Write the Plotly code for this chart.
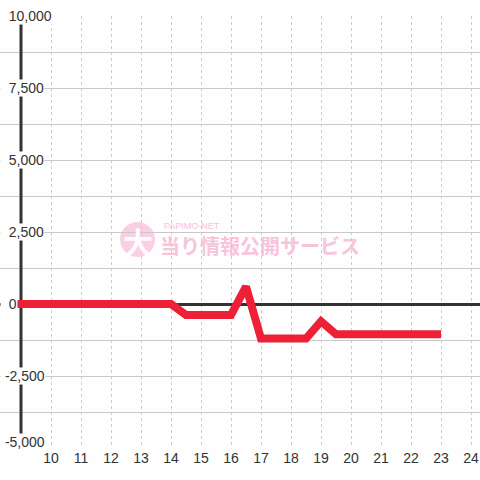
import plotly.graph_objects as go

# ---- data ----
hours = [8.5, 9, 9.5, 10, 10.5, 11, 11.5, 12, 12.5, 13, 13.5, 14,
         14.5, 15, 15.5, 16, 16.5, 17, 17.5, 18, 18.5, 19, 19.5,
         20, 20.5, 21, 21.5, 22, 22.5, 23]
balance = [0, 0, 0, 0, 0, 0, 0, 0, 0, 0, 0, 0,
           -380, -380, -380, -380, 600, -1200, -1200, -1200, -1200, -600, -1050,
           -1050, -1050, -1050, -1050, -1050, -1050, -1050]

x_tick_vals = [9, 10, 11, 12, 13, 14, 15, 16, 17, 18, 19, 20, 21, 22, 23, 24]
x_tick_text = ["", "10", "11", "12", "13", "14", "15", "16", "17", "18",
               "19", "20", "21", "22", "23", "24"]
y_label_vals = [10000, 7500, 5000, 2500, 0, -2500, -5000]
y_label_text = ["10,000", "7,500", "5,000", "2,500", "0", "-2,500", "-5,000"]

watermark_main = "当り情報公開サービス"
watermark_sub = "PAPIMO-NET"
watermark_icon = "大"

BG = "#fdfefd"
TXT = "#333333"
NBSP = "\u00a0"

fig = go.Figure()
fig.add_trace(go.Scatter(
    x=hours, y=balance, mode="lines",
    line=dict(color="#ee2037", width=8),
    hoverinfo="skip", showlegend=False,
))

# dark vertical axis line at x=9
fig.add_shape(type="line", xref="x", yref="y", x0=9, x1=9, y0=-5000, y1=10000,
              line=dict(color=TXT, width=3), layer="between")

# watermark circle
fig.add_shape(type="circle", xref="paper", yref="paper",
              x0=0.25, x1=0.3229, y0=0.442, y1=0.523,
              fillcolor="#fbcfe3", line=dict(width=0), layer="below")

annotations = []
for v, t in zip(y_label_vals, y_label_text):
    pad = NBSP if t.startswith("-") else NBSP * 2
    annotations.append(dict(
        x=0, xref="paper", y=v, yref="y", text=pad + t, showarrow=False,
        xanchor="left", yanchor="middle", xshift=0,
        yshift=(6 if v == min(y_label_vals) else 0),
        font=dict(family="Liberation Sans, Arial", size=14, color=TXT),
        bgcolor=BG, borderpad=0,
    ))

annotations.append(dict(
    x=0.2875, xref="paper", y=0.479, yref="paper", text="<b>" + watermark_icon + "</b>",
    showarrow=False, xanchor="center", yanchor="middle",
    font=dict(family="Noto Sans CJK JP", size=30, color="white"), opacity=0.95))
annotations.append(dict(
    x=0.5417, xref="paper", y=0.4676, yref="paper", text="<b>" + watermark_main + "</b>",
    showarrow=False, xanchor="center", yanchor="middle",
    font=dict(family="Noto Sans CJK JP", size=20, color="#f9b9d6"), opacity=0.85))
annotations.append(dict(
    x=0.3375, xref="paper", y=0.5139, yref="paper", text=watermark_sub,
    showarrow=False, xanchor="left", yanchor="middle",
    font=dict(family="Liberation Sans, Arial", size=9, color="#f7bcd7"), opacity=0.9))

fig.update_layout(
    width=480, height=480,
    margin=dict(l=0, r=0, t=16, b=32, autoexpand=False),
    paper_bgcolor=BG, plot_bgcolor=BG,
    showlegend=False,
    annotations=annotations,
    xaxis=dict(
        range=[8.3, 24.3], tickmode="array", tickvals=x_tick_vals, ticktext=x_tick_text,
        showgrid=True, gridcolor="#cccccc", gridwidth=1, griddash="dot",
        zeroline=False, showline=False, ticks="", automargin=False,
        tickfont=dict(family="Liberation Sans, Arial", size=14, color=TXT),
        fixedrange=True,
    ),
    yaxis=dict(
        range=[-5000, 10000], tick0=0, dtick=1250,
        showgrid=True, gridcolor="#c8c8c8", gridwidth=1,
        zeroline=True, zerolinecolor=TXT, zerolinewidth=3, automargin=False,
        showticklabels=False, ticks="", showline=False, fixedrange=True,
    ),
)

fig.write_html("out.html", config={"displayModeBar": False},
               post_script="document.body.style.margin='0';")
